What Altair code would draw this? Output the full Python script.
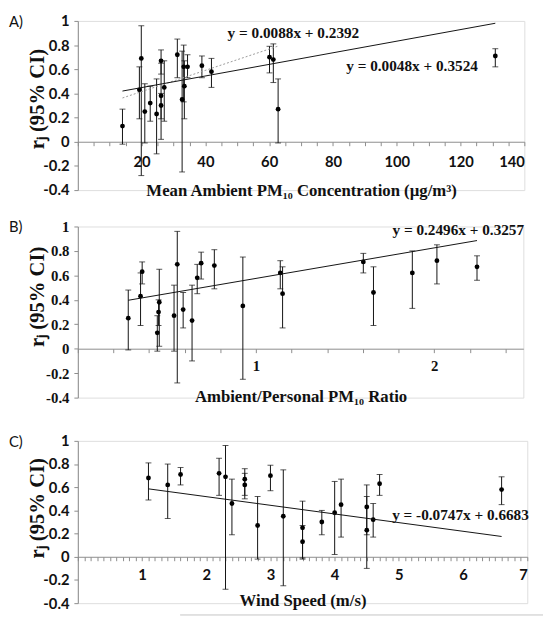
import altair as alt
import pandas as pd

# ---------------- Panel A: Mean ambient PM10 concentration ----------------
a_x  = [14.0, 19.3, 19.9, 21.0, 22.7, 24.7, 26.1, 26.1, 26.1, 27.1, 31.2, 32.7, 33.2, 33.4, 34.4, 38.9, 41.9, 60.1, 61.3, 62.8, 130.9]
a_r  = [0.13, 0.43, 0.69, 0.25, 0.32, 0.23, 0.67, 0.38, 0.30, 0.45, 0.72, 0.35, 0.62, 0.46, 0.62, 0.63, 0.58, 0.70, 0.68, 0.27, 0.71]
a_lo = [-0.02, 0.19, -0.28, -0.01, 0.17, -0.10, 0.56, 0.02, 0.19, 0.17, 0.53, -0.25, 0.33, 0.19, 0.53, 0.53, 0.45, 0.57, 0.49, -0.01, 0.62]
a_hi = [0.27, 0.62, 0.96, 0.48, 0.46, 0.52, 0.76, 0.65, 0.40, 0.67, 0.85, 0.75, 0.80, 0.67, 0.72, 0.71, 0.69, 0.79, 0.81, 0.52, 0.77]
a_fit_all = (0.0048, 0.3524)     # slope, intercept (all studies)
a_fit_sub = (0.0088, 0.2392)     # slope, intercept (without highest)
a_eq_text = ["y = 0.0088x + 0.2392", "y = 0.0048x + 0.3524"]
a_eq_x = [67.6, 104.8]
a_eq_y = [0.90, 0.63]

# ---------------- Panel B: Ambient/personal PM10 ratio ----------------
b_x  = [0.283, 0.352, 0.361, 0.446, 0.457, 0.453, 0.540, 0.558, 0.591, 0.641, 0.670, 0.692, 0.766, 0.926, 1.136, 1.149, 1.602, 1.659, 1.877, 2.015, 2.240]
b_r  = [0.25, 0.43, 0.63, 0.13, 0.38, 0.30, 0.27, 0.69, 0.32, 0.23, 0.58, 0.70, 0.68, 0.35, 0.62, 0.45, 0.71, 0.46, 0.62, 0.72, 0.67]
b_lo = [-0.01, 0.19, 0.53, -0.02, 0.02, 0.19, -0.02, -0.28, 0.17, -0.10, 0.45, 0.57, 0.49, -0.25, 0.49, 0.17, 0.62, 0.19, 0.33, 0.53, 0.56]
b_hi = [0.48, 0.62, 0.71, 0.27, 0.65, 0.40, 0.52, 0.96, 0.46, 0.52, 0.69, 0.79, 0.81, 0.75, 0.72, 0.67, 0.78, 0.67, 0.80, 0.85, 0.76]
b_fit = (0.2496, 0.3257)
b_eq_text = ["y = 0.2496x + 0.3257"]
b_eq_x = [2.135]
b_eq_y = [0.97]

# ---------------- Panel C: Wind speed ----------------
c_x  = [1.1, 1.4, 1.6, 2.2, 2.3, 2.4, 2.6, 2.6, 2.8, 3.0, 3.2, 3.5, 3.5, 3.8, 4.0, 4.1, 4.5, 4.5, 4.6, 4.7, 6.6]
c_r  = [0.68, 0.62, 0.71, 0.72, 0.69, 0.46, 0.67, 0.62, 0.27, 0.70, 0.35, 0.25, 0.13, 0.30, 0.38, 0.45, 0.43, 0.23, 0.32, 0.63, 0.58]
c_lo = [0.49, 0.33, 0.62, 0.53, -0.28, 0.19, 0.53, 0.50, -0.02, 0.57, -0.25, -0.01, -0.02, 0.19, 0.02, 0.17, 0.19, -0.10, 0.17, 0.53, 0.45]
c_hi = [0.81, 0.80, 0.77, 0.85, 0.96, 0.67, 0.76, 0.72, 0.52, 0.79, 0.75, 0.48, 0.27, 0.40, 0.65, 0.67, 0.62, 0.52, 0.46, 0.71, 0.69]
c_fit = (-0.0747, 0.6683)
c_eq_text = ["y = -0.0747x + 0.6683"]
c_eq_x = [5.96]
c_eq_y = [0.36]

y_ticks = [-0.4, -0.2, 0, 0.2, 0.4, 0.6, 0.8, 1]

SERIF = "Liberation Serif"
SANS = "Lato"
GREY = "#8c8c8c"
INK = "#111111"


def fit_frame(xs, slope, intercept):
    x0, x1 = min(xs), max(xs)
    return pd.DataFrame({"x": [x0, x1], "r": [slope * x0 + intercept, slope * x1 + intercept]})


def panel(xs, rs, los, his, xmax, tick_vals, major, fits, eq_text, eq_x, eq_y,
          letter, w, h, xtitle, lab_font, lab_pad, title_pad, title_y, extra=None):
    df = pd.DataFrame({"x": xs, "r": rs, "lo": los, "hi": his})
    xscale = alt.Scale(domain=[0, xmax], nice=False, zero=False)
    yscale = alt.Scale(domain=[-0.4, 1], nice=False, zero=False)
    off = -h * 0.4 / 1.4
    xaxis = alt.Axis(
        values=tick_vals,
        labelExpr=f"abs(datum.value/{major} - round(datum.value/{major})) < 0.001 && datum.value > 0 ? toString(round(datum.value)) : ''",
        offset=off, grid=False, domainColor=GREY, tickColor=GREY, tickSize=4,
        labelFont=lab_font, labelFontWeight="bold", labelFontSize=15, labelColor=INK,
        labelPadding=lab_pad, labelOverlap=False,
        title=xtitle, titleFont=SERIF, titleFontWeight="bold", titleFontSize=17,
        titleColor=INK, titlePadding=title_pad,
    )
    yaxis = alt.Axis(
        values=y_ticks,
        labelExpr="toString(round(datum.value*10)/10)",
        grid=False, domainColor=GREY, tickColor=GREY, tickSize=4,
        labelFont=lab_font, labelFontWeight="bold", labelFontSize=15, labelColor=INK,
        labelPadding=5,
        title="rⱼ (95% CI)", titleFont=SERIF, titleFontWeight="bold", titleFontSize=21,
        titleColor=INK, titleX=-31, titleY=title_y, titleAngle=270,
        titleBaseline="bottom", titleAlign="center",
    )
    X = alt.X("x:Q", scale=xscale, axis=xaxis)
    base = alt.Chart(df)
    bars = base.mark_rule(color=INK, strokeWidth=1).encode(
        x=X, y=alt.Y("lo:Q", scale=yscale, axis=yaxis), y2="hi:Q")
    cap_lo = base.mark_tick(color=INK, orient="horizontal", size=6, thickness=1).encode(
        x=X, y=alt.Y("lo:Q", scale=yscale, axis=yaxis))
    cap_hi = base.mark_tick(color=INK, orient="horizontal", size=6, thickness=1).encode(
        x=X, y=alt.Y("hi:Q", scale=yscale, axis=yaxis))
    pts = base.mark_circle(color="black", opacity=1, size=24).encode(
        x=X, y=alt.Y("r:Q", scale=yscale, axis=yaxis))
    layers = [bars, cap_lo, cap_hi, pts]
    for fdf, style in fits:
        if style == "dotted":
            m = alt.Chart(fdf).mark_line(color="#9a9a9a", strokeWidth=1, strokeDash=[2, 2])
        else:
            m = alt.Chart(fdf).mark_line(color=INK, strokeWidth=1)
        layers.append(m.encode(x=X, y=alt.Y("r:Q", scale=yscale, axis=yaxis)))
    eq = pd.DataFrame({"x": eq_x, "r": eq_y, "t": eq_text})
    layers.append(alt.Chart(eq).mark_text(
        font=SERIF, fontWeight="bold", fontSize=15.5, color=INK, align="center", baseline="middle"
    ).encode(x=X, y=alt.Y("r:Q", scale=yscale, axis=yaxis), text="t:N"))
    lab = pd.DataFrame({"t": [letter]})
    layers.append(alt.Chart(lab).mark_text(
        font=SANS, fontSize=15, color=INK, align="left", baseline="middle"
    ).encode(x=alt.value(-70), y=alt.value(1), text="t:N"))
    if extra is not None:
        layers.append(extra)
    return alt.layer(*layers).properties(width=w, height=h)


# faint grey rule that runs along the bottom edge of the original figure
bottom_rule = alt.Chart(pd.DataFrame({"k": [0]})).mark_rule(color="#c4c4c4", strokeWidth=1).encode(
    x=alt.value(104), x2=alt.value(473), y=alt.value(177))

pa = panel(a_x, a_r, a_lo, a_hi, 140, list(range(0, 141, 5)), 20,
           [(fit_frame(a_x[:-1], *a_fit_sub), "dotted"), (fit_frame(a_x, *a_fit_all), "solid")],
           a_eq_text, a_eq_x, a_eq_y, "A)", 454, 172,
           "Mean Ambient PM₁₀ Concentration (µg/m³)", SANS, 9, 14, 79)

pb = panel(b_x, b_r, b_lo, b_hi, 2.5, [round(i * 0.2, 1) for i in range(13)], 1,
           [(fit_frame(b_x, *b_fit), "solid")],
           b_eq_text, b_eq_x, b_eq_y, "B)", 453, 174,
           "Ambient/Personal PM₁₀ Ratio", SERIF, 6, 16, 71)

pc = panel(c_x, c_r, c_lo, c_hi, 7, [round(i * 0.1, 1) for i in range(71)], 1,
           [(fit_frame(c_x, *c_fit), "solid")],
           c_eq_text, c_eq_x, c_eq_y, "C)", 457, 165,
           "Wind Speed (m/s)", SANS, 7, 11, 68, extra=bottom_rule)

chart = alt.vconcat(
    pa,
    alt.vconcat(pb, pc, spacing=27),
    spacing=19,
).properties(padding=0).configure_view(stroke=None).configure(background="white")

chart.save("out.html", embed_options={"renderer": "svg", "actions": False})
